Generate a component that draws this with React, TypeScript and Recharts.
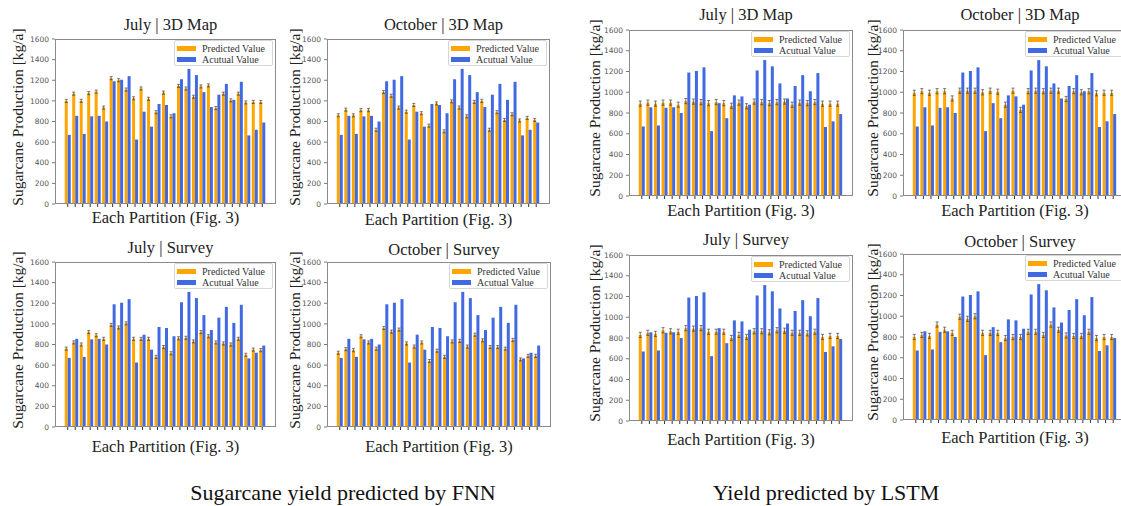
import React from 'react';
import { BarChart, Bar, XAxis, YAxis, ErrorBar } from 'recharts';

const partitions = [
  'P1', 'P2', 'P3', 'P4', 'P5', 'P6', 'P7', 'P8', 'P9', 'P10', 'P11', 'P12', 'P13', 'P14',
  'P15', 'P16', 'P17', 'P18', 'P19', 'P20', 'P21', 'P22', 'P23', 'P24', 'P25', 'P26', 'P27',
];

const actual = [670, 855, 680, 850, 855, 800, 1190, 1205, 1240, 625, 895, 750, 970, 960, 880, 1210, 1310, 1250, 1085, 940, 1060, 1165, 1010, 1185, 665, 720, 790];

const fnnJuly3D = [1000, 1070, 1000, 1075, 1090, 935, 1220, 1200, 1110, 1025, 1120, 1020, 890, 1080, 850, 1145, 1120, 1040, 1140, 1150, 930, 1070, 1005, 1070, 985, 990, 990];
const fnnOct3D = [860, 915, 860, 910, 910, 720, 1085, 1050, 935, 895, 960, 880, 760, 975, 705, 995, 935, 850, 990, 1000, 720, 890, 815, 870, 810, 835, 815];
const fnnJulySurvey = [760, 820, 800, 920, 890, 855, 990, 965, 1005, 855, 855, 855, 680, 775, 715, 860, 865, 830, 920, 880, 820, 810, 800, 855, 700, 750, 745];
const fnnOctSurvey = [720, 755, 745, 880, 820, 760, 960, 925, 945, 810, 780, 820, 640, 740, 680, 830, 835, 780, 895, 840, 775, 775, 760, 845, 655, 690, 690];

const lstmJuly3D = [890, 900, 890, 900, 900, 880, 915, 910, 905, 895, 905, 895, 870, 900, 865, 910, 905, 895, 905, 910, 880, 900, 895, 905, 890, 890, 890];
const lstmOct3D = [995, 1010, 995, 1010, 1010, 940, 1015, 1015, 1015, 1000, 1015, 1005, 880, 1015, 830, 1010, 1015, 1010, 1015, 1015, 935, 1010, 1000, 1010, 990, 995, 995];
const lstmJulySurvey = [830, 850, 840, 875, 865, 860, 895, 890, 895, 860, 860, 860, 800, 830, 810, 865, 865, 855, 875, 870, 850, 850, 845, 860, 810, 820, 820];
const lstmOctSurvey = [800, 820, 810, 920, 870, 840, 995, 975, 1000, 840, 840, 840, 790, 800, 800, 850, 850, 820, 920, 870, 815, 810, 810, 850, 790, 800, 800];

const yTicks = [0, 200, 400, 600, 800, 1000, 1200, 1400, 1600];

const ORANGE = '#FFA500';
const BLUE = '#4169E1';
const SERIF = '"Liberation Serif", "Times New Roman", serif';

const panels = [
  { title: 'July | 3D Map', predicted: fnnJuly3D, err: 15, x: 55, y: 39, w: 221, h: 165, titleY: 25, xLabelY: 218, yLabelX: 18 },
  { title: 'October | 3D Map', predicted: fnnOct3D, err: 15, x: 327, y: 39, w: 223, h: 165, titleY: 25, xLabelY: 220, yLabelX: 295 },
  { title: 'July | Survey', predicted: fnnJulySurvey, err: 15, x: 55, y: 262, w: 221, h: 165, titleY: 248, xLabelY: 447, yLabelX: 18 },
  { title: 'October | Survey', predicted: fnnOctSurvey, err: 15, x: 327, y: 262, w: 224, h: 165, titleY: 250, xLabelY: 447, yLabelX: 295 },
  { title: 'July | 3D Map', predicted: lstmJuly3D, err: 25, x: 629, y: 30, w: 224, h: 166, titleY: 15, xLabelY: 211, yLabelX: 595 },
  { title: 'October | 3D Map', predicted: lstmOct3D, err: 25, x: 903, y: 30, w: 224, h: 166, titleY: 15, xLabelY: 211, yLabelX: 873 },
  { title: 'July | Survey', predicted: lstmJulySurvey, err: 25, x: 629, y: 255, w: 224, h: 166, titleY: 240, xLabelY: 440, yLabelX: 595 },
  { title: 'October | Survey', predicted: lstmOctSurvey, err: 25, x: 903, y: 254, w: 224, h: 166, titleY: 242, xLabelY: 438, yLabelX: 873 },
];

const ML = 40;
const MT = 4;
const MR = 4;
const MB = 8;

type PanelDef = (typeof panels)[number];

const LegendBox = ({ p }: { p: PanelDef }) => (
  <div
    style={{
      position: 'absolute',
      left: p.x + p.w - 102,
      top: p.y + 1,
      width: 99,
      height: 26,
      boxSizing: 'border-box',
      border: '1px solid #d6d6d6',
      borderRadius: 2,
      background: 'rgba(255,255,255,0.85)',
      fontFamily: SERIF,
      fontSize: 10,
      color: '#333',
      padding: '2px 0 0 2px',
    }}
  >
    {[
      { color: ORANGE, label: 'Predicted Value' },
      { color: BLUE, label: 'Acutual Value' },
    ].map((it) => (
      <div key={it.label} style={{ display: 'flex', alignItems: 'center', height: 11 }}>
        <span style={{ display: 'inline-block', width: 19, height: 5, background: it.color, marginRight: 6 }} />
        <span style={{ whiteSpace: 'nowrap' }}>{it.label}</span>
      </div>
    ))}
  </div>
);

const Panel = ({ p }: { p: PanelDef }) => {
  const data = partitions.map((name, i) => ({
    partition: name,
    predicted: p.predicted[i],
    actual: actual[i],
    err: p.err,
  }));
  const cx = p.x + p.w / 2;
  return (
    <>
      <div style={{ position: 'absolute', left: p.x - ML, top: p.y - MT }}>
        <BarChart
          width={p.w + ML + MR}
          height={p.h + MT + MB}
          data={data}
          margin={{ top: MT, right: MR, bottom: 0, left: 0 }}
          barGap={0}
          barCategoryGap="10%"
        >
          <XAxis
            dataKey="partition"
            height={MB}
            axisLine={false}
            tickLine={{ stroke: '#333' }}
            tickSize={3}
            interval={0}
            tick={() => <g />}
            padding={{ left: 9, right: 10 }}
          />
          <YAxis
            type="number"
            domain={[0, 1600]}
            ticks={yTicks}
            interval={0}
            width={ML}
            axisLine={false}
            tickLine={{ stroke: '#777' }}
            tickSize={3}
            tickMargin={3}
            tick={{ fontSize: 7.5, fill: '#555', fontFamily: '"DejaVu Sans", sans-serif' }}
          />
          <Bar dataKey="predicted" fill={ORANGE} isAnimationActive={false}>
            <ErrorBar dataKey="err" width={1.5} stroke="#444" strokeWidth={0.7} />
          </Bar>
          <Bar dataKey="actual" fill={BLUE} isAnimationActive={false} />
        </BarChart>
      </div>
      <div
        style={{
          position: 'absolute',
          left: p.x,
          top: p.y,
          width: p.w,
          height: p.h,
          boxSizing: 'border-box',
          border: '1px solid #8a8a8a',
          pointerEvents: 'none',
        }}
      />
      <LegendBox p={p} />
      <div
        style={{
          position: 'absolute',
          left: cx + 5 - 120,
          top: p.titleY - 10,
          width: 240,
          height: 20,
          lineHeight: '20px',
          textAlign: 'center',
          fontFamily: SERIF,
          fontSize: 16.5,
          color: '#222',
        }}
      >
        {p.title}
      </div>
      <div
        style={{
          position: 'absolute',
          left: cx - 120,
          top: p.xLabelY - 10,
          width: 240,
          height: 20,
          lineHeight: '20px',
          textAlign: 'center',
          fontFamily: SERIF,
          fontSize: 16.5,
          color: '#222',
        }}
      >
        Each Partition (Fig. 3)
      </div>
      <div
        style={{
          position: 'absolute',
          left: p.yLabelX - 110,
          top: p.y + p.h / 2 - 5 - 10,
          width: 220,
          height: 20,
          lineHeight: '20px',
          textAlign: 'center',
          fontFamily: SERIF,
          fontSize: 15.5,
          color: '#222',
          transform: 'rotate(-90deg)',
          whiteSpace: 'nowrap',
        }}
      >
        Sugarcane Production [kg/a]
      </div>
    </>
  );
};

export default function App() {
  return (
    <div
      style={{
        position: 'absolute',
        left: 0,
        top: 0,
        width: 1121,
        height: 506,
        overflow: 'hidden',
        background: '#fff',
      }}
    >
      {panels.map((p, i) => (
        <Panel key={i} p={p} />
      ))}
      <div
        style={{
          position: 'absolute',
          left: 343 - 200,
          top: 480,
          width: 400,
          height: 26,
          lineHeight: '26px',
          textAlign: 'center',
          fontFamily: SERIF,
          fontSize: 22,
          color: '#111',
        }}
      >
        Sugarcane yield predicted by FNN
      </div>
      <div
        style={{
          position: 'absolute',
          left: 826 - 200,
          top: 480,
          width: 400,
          height: 26,
          lineHeight: '26px',
          textAlign: 'center',
          fontFamily: SERIF,
          fontSize: 22,
          color: '#111',
        }}
      >
        Yield predicted by LSTM
      </div>
    </div>
  );
}
